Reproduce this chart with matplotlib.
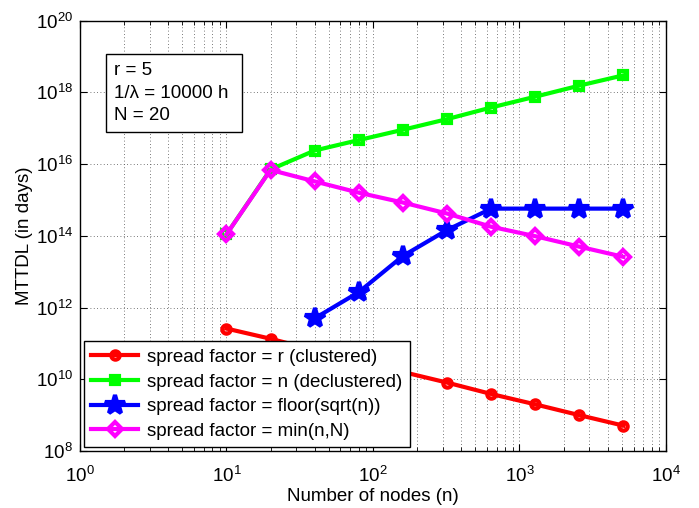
import numpy as np
import matplotlib
matplotlib.use('Agg')
from matplotlib import pyplot as plt
from matplotlib.ticker import FixedLocator, NullLocator, NullFormatter, LogFormatterMathtext

plt.rcParams['font.family'] = ['Liberation Sans', 'DejaVu Sans']
plt.rcParams['mathtext.fontset'] = 'custom'
plt.rcParams['mathtext.rm'] = 'Liberation Sans'
plt.rcParams['mathtext.default'] = 'regular'

# data
nodes = [10, 20, 40, 80, 160, 320, 640, 1280, 2560, 5120]
nodes_sqrt = [40, 80, 160, 320, 640, 1280, 2560, 5120]

mttdl_clustered = [2.6e11, 1.35e11, 6.5e10, 3.2e10, 1.6e10, 8.1e9, 3.9e9, 2.0e9, 1.0e9, 5.1e8]
mttdl_declustered = [1.1e14, 7.1e15, 2.4e16, 4.7e16, 9.1e16, 1.8e17, 3.8e17, 7.6e17, 1.55e18, 3.0e18]
mttdl_sqrt = [5.0e11, 2.7e12, 2.75e13, 1.45e14, 5.75e14, 5.75e14, 5.75e14, 5.75e14]
mttdl_min = [1.1e14, 6.9e15, 3.3e15, 1.6e15, 8.5e14, 4.2e14, 1.8e14, 9.8e13, 5.0e13, 2.6e13]

labels = ['spread factor = r (clustered)',
          'spread factor = n (declustered)',
          'spread factor = floor(sqrt(n))',
          'spread factor = min(n,N)']

xticks = [1e0, 1e1, 1e2, 1e3, 1e4]
yticks = [1e8, 1e10, 1e12, 1e14, 1e16, 1e18, 1e20]

fs = 13.5

fig = plt.figure(figsize=(6.99, 5.08), dpi=100)
ax = fig.add_axes([0.1144, 0.1122, 0.8384, 0.8470])

lw = 3
ax.plot(nodes, mttdl_clustered, '-o', color=(1, 0, 0), lw=lw, ms=6, mfc='none', mew=lw, label=labels[0])
ax.plot(nodes, mttdl_declustered, '-s', color=(0, 1, 0), lw=lw, ms=6, mfc='none', mew=lw, label=labels[1])
ax.plot(nodes_sqrt, mttdl_sqrt, '-*', color=(0, 0, 1), lw=lw, ms=15, mfc=(0, 0, 1), mew=lw, label=labels[2])
ax.plot(nodes, mttdl_min, '-D', color=(1, 0, 1), lw=lw, ms=7, mfc='none', mew=lw, label=labels[3])

ax.set_xscale('log')
ax.set_yscale('log')
ax.set_xlim(1, 1e4)
ax.set_ylim(1e8, 1e20)

# minor x ticks at 2..9 of each decade
xminor = [m * 10.0 ** d for d in range(4) for m in range(2, 10)]
ax.xaxis.set_major_locator(FixedLocator(xticks))
ax.xaxis.set_minor_locator(FixedLocator(xminor))
ax.xaxis.set_minor_formatter(NullFormatter())
ax.yaxis.set_major_locator(FixedLocator(yticks))
ax.yaxis.set_minor_locator(NullLocator())
ax.xaxis.set_major_formatter(LogFormatterMathtext())
ax.yaxis.set_major_formatter(LogFormatterMathtext())

ax.tick_params(which='both', direction='in', top=True, right=True, labelsize=fs)
ax.tick_params(which='major', length=5, width=0.8, pad=5)
ax.tick_params(which='minor', length=3, width=0.6)
ax.tick_params(axis='x', which='major', pad=11)
for s in ax.spines.values():
    s.set_linewidth(1.0)

grid_style = dict(linestyle=(0, (1, 3)), color='0.3', lw=0.6)
ax.grid(True, which='major', **grid_style)
ax.grid(True, which='minor', axis='x', **grid_style)

ax.set_xlabel('Number of nodes (n)', fontsize=fs, labelpad=1)
ax.set_ylabel('MTTDL (in days)', fontsize=fs, labelpad=2)

leg = ax.legend(loc='lower left', fontsize=fs, handlelength=2.5, borderaxespad=0.2,
                labelspacing=0.4, fancybox=False, edgecolor='k', framealpha=1,
                borderpad=0.4, handletextpad=0.5)
leg.get_frame().set_linewidth(1.0)

ax.text(0.058, 0.903, 'r = 5\n1/\u03bb = 10000 h \nN = 20', transform=ax.transAxes,
        fontsize=fs, va='top', ha='left', linespacing=1.4,
        bbox=dict(boxstyle='square,pad=0.45', facecolor='white', edgecolor='k', lw=1.0))

fig.savefig('out.png', dpi=100)
